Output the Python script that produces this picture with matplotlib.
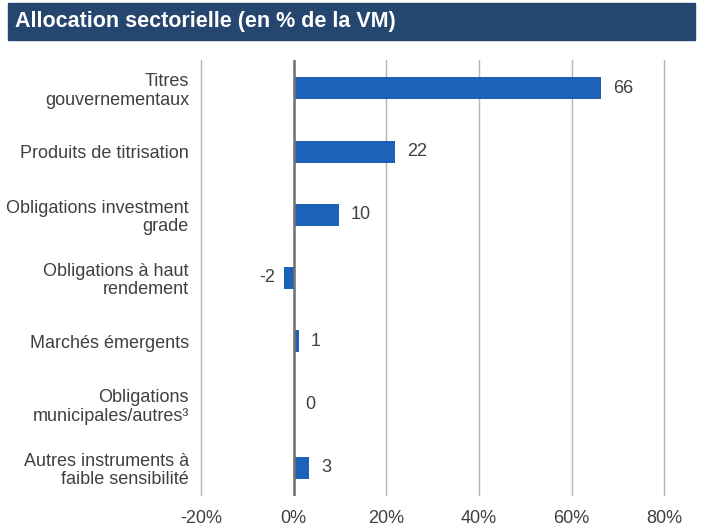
import matplotlib
matplotlib.use("Agg")
import matplotlib.pyplot as plt
from matplotlib.patches import Rectangle

plt.rcParams['font.family'] = ['Liberation Sans Narrow', 'Liberation Sans', 'DejaVu Sans']

categories = [
    "Titres\ngouvernementaux",
    "Produits de titrisation",
    "Obligations investment\ngrade",
    "Obligations à haut\nrendement",
    "Marchés émergents",
    "Obligations\nmunicipales/autres³",
    "Autres instruments à\nfaible sensibilité",
]
values = [66.4, 22.0, 9.7, -2.0, 1.1, 0.0, 3.4]
labels = ["66", "22", "10", "-2", "1", "0", "3"]
xticks = [-20, 0, 20, 40, 60, 80]

bar_color = "#1c62b9"
text_color = "#404040"

fig = plt.figure(figsize=(7.02, 5.28), dpi=100)

# Title band
fig.patches.append(Rectangle((8 / 702, 1 - 40 / 528), 687 / 702, 37 / 528,
                             transform=fig.transFigure, color="#25466f", zorder=0))
fig.text(15 / 702, 1 - 22 / 528, "Allocation sectorielle (en % de la VM)",
         color="white", fontsize=15.5, fontweight="bold", va="center", ha="left")

ax = fig.add_axes([200 / 702, 1 - 496 / 528, 466 / 702, 436 / 528])
y = list(range(len(categories)))
ax.barh(y, values, height=0.35, color=bar_color, zorder=3)

for yi, v, lab in zip(y, values, labels):
    if v < 0:
        ax.text(v - 1.9, yi, lab, ha="right", va="center", fontsize=13, color=text_color)
    else:
        ax.text(v + 2.6, yi, lab, ha="left", va="center", fontsize=13, color=text_color)

ax.set_xlim(-20.2, 80.4)
ax.set_ylim(6.45, -0.45)
ax.set_xticks(xticks)
ax.set_xticklabels([f"{t}%" for t in xticks])
ax.set_yticks(y)
ax.set_yticklabels(categories, linespacing=1.1)

ax.grid(axis="x", color="#b5b5b5", linewidth=1, zorder=0)
ax.axvline(0, color="#707070", linewidth=1.8, zorder=4)
for s in ax.spines.values():
    s.set_visible(False)
ax.tick_params(axis="both", length=0, labelsize=13, labelcolor=text_color)
ax.tick_params(axis="y", pad=8)
ax.tick_params(axis="x", pad=10)

fig.savefig("out.png", dpi=100)
